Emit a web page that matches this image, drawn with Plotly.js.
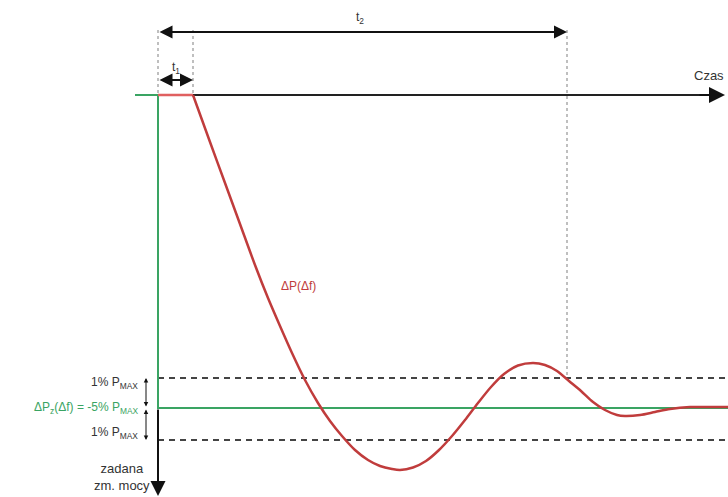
<!DOCTYPE html>
<html>
<head>
<meta charset="utf-8">
<script src="https://cdn.plot.ly/plotly-3.0.1.min.js"></script>
<style>html,body{margin:0;padding:0;background:#fff;}#chart{width:728px;height:497px;}</style>
</head>
<body>
<div id="chart"></div>
<script>
// Time (arbitrary units, 0 = disturbance instant) and power change (arbitrary units, 0 = initial power, negative = reduction)
const delayT = [0, 35];
const delayP = [0, 0];
const curveT = [35, 52, 67, 82, 97, 110, 122, 134, 147, 160, 172, 184, 197, 210, 222, 234, 242, 255, 268, 281, 294, 307, 320, 333, 346, 360, 375, 387, 399, 411, 423, 435, 447, 459, 467, 482, 497, 512, 532, 552, 570];
const curveP = [0, -47, -88, -129, -170, -203, -231, -258, -285, -308, -326, -341, -355, -365, -371, -374, -375, -372.5, -366, -355, -341, -325, -308, -292, -279, -270.5, -268, -270, -276, -286, -296, -307, -315, -320, -321, -320, -317, -314, -312, -312, -312];
// Set-point step (ΔPz = -5% Pmax)
const setT = [-23, 0, 0, 570];
const setP = [0, 0, -313, -313];
// Tolerance band ±1% Pmax
const bandUpper = -283;
const bandLower = -345;
const setpoint = -313;
const t1 = 35;
const t2 = 409;
const tEnd = 570;

const RED = '#c03c3c';
const GREEN = '#3aa463';
const FONT = 'Liberation Sans, Arial, sans-serif';

const traces = [
  {x: setT, y: setP, mode: 'lines', line: {color: GREEN, width: 2}, hoverinfo: 'skip'},
  {x: delayT, y: delayP, mode: 'lines', line: {color: '#e06060', width: 2.5}, hoverinfo: 'skip'},
  {x: curveT, y: curveP, mode: 'lines', line: {color: RED, width: 2.5, shape: 'spline', smoothing: 0.8}, hoverinfo: 'skip'}
];

const shapes = [
  // time axis line
  {type: 'line', xref: 'x', yref: 'y', x0: t1, x1: 560, y0: 0, y1: 0, line: {color: '#222', width: 2}, layer: 'below'},
  // tolerance band dashed lines
  {type: 'line', xref: 'x', yref: 'y', x0: 0, x1: tEnd, y0: bandUpper, y1: bandUpper, line: {color: '#444', width: 2, dash: '6px,5px'}, layer: 'below'},
  {type: 'line', xref: 'x', yref: 'y', x0: 0, x1: tEnd, y0: bandLower, y1: bandLower, line: {color: '#444', width: 2, dash: '6px,5px'}, layer: 'below'},
  // dotted time markers
  {type: 'line', xref: 'x', yref: 'y', x0: 0, x1: 0, y0: 65, y1: 0, line: {color: '#aaa', width: 1.5, dash: 'dot'}, layer: 'below'},
  {type: 'line', xref: 'x', yref: 'y', x0: t1, x1: t1, y0: 65, y1: 0, line: {color: '#aaa', width: 1.5, dash: 'dot'}, layer: 'below'},
  {type: 'line', xref: 'x', yref: 'y', x0: t2, x1: t2, y0: 65, y1: bandUpper, line: {color: '#aaa', width: 1.5, dash: 'dot'}, layer: 'below'}
];

function arrow(x, y, ax, ay, side, size, width) {
  return {x: x, y: y, ax: ax, ay: ay, xref: 'x', yref: 'y', axref: 'x', ayref: 'y', text: '', showarrow: true,
    arrowhead: 2, startarrowhead: 2, arrowside: side, arrowsize: size, startarrowsize: size, arrowwidth: width, arrowcolor: '#111'};
}

const annotations = [
  arrow(567, 0, 540, 0, 'end', 1.6, 2),
  arrow(t2, 63, 0, 63, 'end+start', 1.3, 2),
  arrow(t1, 15, 0, 15, 'end+start', 1.3, 2),
  arrow(0, -401, 0, setpoint, 'end', 1.5, 2),
  arrow(-12, bandUpper, -12, setpoint, 'end+start', 0.9, 1),
  arrow(-12, bandLower, -12, setpoint, 'end+start', 0.9, 1),
  {x: 202, y: 77, xref: 'x', yref: 'y', text: 't<sub>2</sub>', showarrow: false, font: {family: FONT, size: 12, color: '#333'}},
  {x: 18, y: 27, xref: 'x', yref: 'y', text: 't<sub>1</sub>', showarrow: false, font: {family: FONT, size: 12, color: '#333'}},
  {x: 568, y: 20, xref: 'x', yref: 'y', xanchor: 'right', text: 'Czas', showarrow: false, font: {family: FONT, size: 13, color: '#333'}},
  {x: 140, y: -191, xref: 'x', yref: 'y', text: 'ΔP(Δf)', showarrow: false, font: {family: FONT, size: 12, color: RED}},
  {x: -18, y: -288, xref: 'x', yref: 'y', xanchor: 'right', text: '1% P<sub>MAX</sub>', showarrow: false, font: {family: FONT, size: 12, color: '#333'}},
  {x: -18, y: -313, xref: 'x', yref: 'y', xanchor: 'right', text: 'ΔP<sub>z</sub>(Δf) = -5% P<sub>MAX</sub>', showarrow: false, font: {family: FONT, size: 12, color: GREEN}},
  {x: -18, y: -338, xref: 'x', yref: 'y', xanchor: 'right', text: '1% P<sub>MAX</sub>', showarrow: false, font: {family: FONT, size: 12, color: '#333'}},
  {x: -6, y: -382, xref: 'x', yref: 'y', xanchor: 'right', align: 'center', text: 'zadana<br>zm. mocy', showarrow: false, font: {family: FONT, size: 13, color: '#333'}}
];

const layout = {
  width: 728, height: 497,
  margin: {l: 0, r: 0, t: 0, b: 0},
  paper_bgcolor: '#fff', plot_bgcolor: '#fff',
  showlegend: false,
  xaxis: {range: [-158, 570], visible: false, fixedrange: true},
  yaxis: {range: [-402, 95], visible: false, fixedrange: true},
  shapes: shapes,
  annotations: annotations
};

Plotly.newPlot('chart', traces, layout, {staticPlot: true, displayModeBar: false});
</script>
</body>
</html>
